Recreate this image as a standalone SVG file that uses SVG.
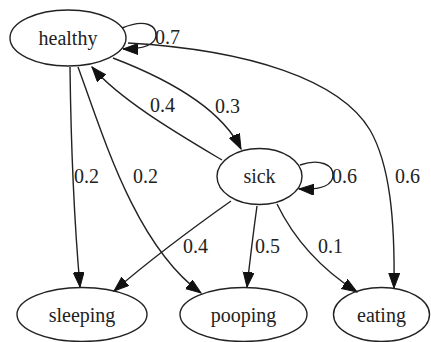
<svg xmlns="http://www.w3.org/2000/svg" width="431" height="342" viewBox="0 0 431 342">
<defs>
<marker id="arr" markerUnits="userSpaceOnUse" markerWidth="16" markerHeight="12" refX="15" refY="5.5" orient="auto">
<path d="M0,0 L15,5.5 L0,11 z" fill="#111" stroke="#111" stroke-width="1"/>
</marker>
</defs>
<style>
.node ellipse{fill:none;stroke:#222;stroke-width:1.4}
text{font-family:'Times New Roman','Liberation Serif',Tinos,'DejaVu Serif','Noto Serif',Times,serif;font-size:20px;fill:#222}
.node text{text-anchor:middle}
.edges path{fill:none;stroke:#222;stroke-width:1.4;marker-end:url(#arr)}
</style>
<rect width="431" height="342" fill="#fff"/>
<g class="edges" id="edges">
<path d="M122,28 C146,18 157,26 156,36 C155,45 144,49 123,49"/>
<text x="155" y="44">0.7</text>
<path d="M113,58 C160,76 220,106 241,149"/>
<text x="215" y="113">0.3</text>
<path d="M222,160 C180,135 120,100 92,67"/>
<text x="150" y="112">0.4</text>
<path d="M70,67 C71,150 75,230 80,287"/>
<text x="74" y="183">0.2</text>
<path d="M78,67 C103,135 135,245 201,293"/>
<text x="133" y="183">0.2</text>
<path d="M128,43 C250,50 340,80 370,130 C390,165 395,220 394,288"/>
<text x="395" y="183">0.6</text>
<path d="M300,165 C320,158 334,165 333,176 C332,186 320,190 299,189"/>
<text x="332" y="183">0.6</text>
<path d="M231,201 C190,230 150,260 114,291"/>
<text x="183" y="253">0.4</text>
<path d="M257,206 C253,235 250,260 247,287"/>
<text x="255" y="253">0.5</text>
<path d="M277,204 C292,235 315,265 357,292"/>
<text x="318" y="253">0.1</text>
</g>
<g class="node" id="healthy"><ellipse cx="68" cy="38" rx="58" ry="28"/><text x="68" y="45">healthy</text></g>
<g class="node" id="sick"><ellipse cx="259.5" cy="176.5" rx="42.5" ry="28"/><text x="259.5" y="183">sick</text></g>
<g class="node" id="sleeping"><ellipse cx="82" cy="314.5" rx="65" ry="27"/><text x="82" y="322">sleeping</text></g>
<g class="node" id="pooping"><ellipse cx="243.5" cy="314.5" rx="63.5" ry="27"/><text x="243.5" y="322">pooping</text></g>
<g class="node" id="eating"><ellipse cx="381.5" cy="314.5" rx="48" ry="27"/><text x="381.5" y="322">eating</text></g>
</svg>
